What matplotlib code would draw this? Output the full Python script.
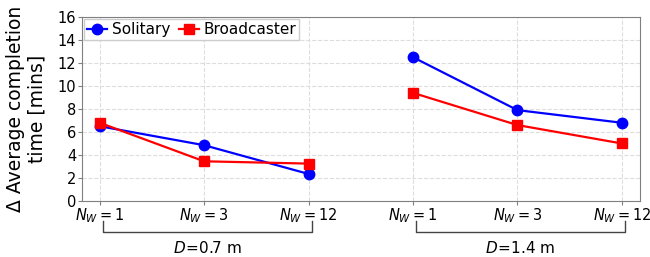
import matplotlib
matplotlib.use("Agg")
import matplotlib.pyplot as plt

# tick labels and groups
tickLabels = [r"$N_W=1$", r"$N_W=3$", r"$N_W=12$"] * 2
groupLabels = [r"$D\!=\!$0.7 m", r"$D\!=\!$1.4 m"]

# delta average completion time (mins), one list per group
solitary07 = [6.5, 4.85, 2.35]
broadcaster07 = [6.8, 3.45, 3.25]
solitary14 = [12.5, 7.9, 6.8]
broadcaster14 = [9.4, 6.6, 5.0]

fig = plt.figure(figsize=(6.5, 2.57), dpi=100)
ax = fig.add_axes([0.126, 0.218, 0.858, 0.716])

xA = [0, 1, 2]
xB = [3, 4, 5]
ax.plot(xA, solitary07, color='b', marker='o', markersize=7.5, linewidth=1.6, label='Solitary')
ax.plot(xA, broadcaster07, color='r', marker='s', markersize=7.5, linewidth=1.6, label='Broadcaster')
ax.plot(xB, solitary14, color='b', marker='o', markersize=7.5, linewidth=1.6)
ax.plot(xB, broadcaster14, color='r', marker='s', markersize=7.5, linewidth=1.6)

ax.set_xlim(-0.17, 5.17)
ax.set_ylim(0, 16)
ax.set_yticks(range(0, 17, 2))
ax.set_xticks(xA + xB)
ax.set_xticklabels(tickLabels)
ax.tick_params(labelsize=10.5, length=3, color='grey', pad=1)
ax.grid(True, linestyle='--', color='#dddddd', linewidth=0.8)
for s in ax.spines.values():
    s.set_color('grey')

ax.set_ylabel("Δ Average completion\ntime [mins]", fontsize=13.5, labelpad=8)
ax.legend(loc='upper left', fontsize=11, handlelength=1.3, handletextpad=0.3,
          borderpad=0.2, borderaxespad=0.15, columnspacing=0.6, ncol=2,
          fancybox=False, framealpha=1)

# group brackets below the axis
trans = ax.get_xaxis_transform()
for x0, x1, label in [(0.03, 2.03, groupLabels[0]), (3.03, 5.03, groupLabels[1])]:
    ax.plot([x0, x0, x1, x1], [-0.11, -0.17, -0.17, -0.11], color='#444444',
            linewidth=1, transform=trans, clip_on=False)
    ax.text((x0 + x1) / 2, -0.21, label, transform=trans, ha='center', va='top', fontsize=11)

fig.savefig("out.png", dpi=100)
